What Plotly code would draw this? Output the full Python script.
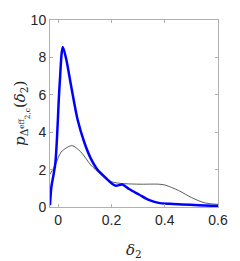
import plotly.graph_objects as go

blue_x = [-0.031, -0.026, -0.011, 0.005, 0.017, 0.03, 0.048, 0.073, 0.098, 0.122, 0.147,
          0.184, 0.205, 0.217, 0.241, 0.266, 0.303, 0.34, 0.377, 0.42, 0.464, 0.526, 0.6]
blue_y = [0.1, 1.05, 2.33, 6.5, 8.56, 7.9, 6.5, 4.65, 3.45, 2.6, 2.0,
          1.48, 1.22, 1.14, 1.2, 0.96, 0.67, 0.38, 0.22, 0.17, 0.14, 0.1, 0.05]

black_x = [-0.031, -0.011, 0.011, 0.051, 0.085, 0.122, 0.16, 0.192, 0.229, 0.303,
           0.377, 0.402, 0.452, 0.501, 0.551, 0.6]
black_y = [1.75, 2.25, 2.94, 3.28, 2.94, 2.25, 1.74, 1.39, 1.27, 1.22,
           1.22, 1.17, 0.88, 0.5, 0.22, 0.14]

x_ticks = [0, 0.2, 0.4, 0.6]
x_labels = ["0", "0.2", "0.4", "0.6"]
y_ticks = [0, 2, 4, 6, 8, 10]
y_labels = ["0", "2", "4", "6", "8", "10"]

fig = go.Figure()
fig.add_trace(go.Scatter(x=black_x, y=black_y, mode="lines",
                         line=dict(color="#333333", width=0.8, shape="spline", smoothing=0.8)))
fig.add_trace(go.Scatter(x=blue_x, y=blue_y, mode="lines",
                         line=dict(color="#0000ff", width=2.5, shape="spline", smoothing=0.8)))

axis_common = dict(showline=True, mirror="ticks", linecolor="#b0b0b0", linewidth=1,
                   ticks="inside", ticklen=3, tickcolor="#b0b0b0", showgrid=False,
                   zeroline=False, tickfont=dict(family="Liberation Sans, Arial", size=14, color="#262626"))

fig.update_layout(
    width=240, height=261,
    margin=dict(l=50, r=20, t=13, b=54),
    paper_bgcolor="white", plot_bgcolor="white",
    showlegend=False,
    xaxis=dict(range=[-0.031, 0.6], tickvals=x_ticks, ticktext=x_labels, **axis_common),
    yaxis=dict(range=[0, 10], tickvals=y_ticks, ticktext=y_labels, **axis_common),
)

fig.add_annotation(text="<i>δ</i><sub>2</sub>", xref="paper", yref="paper",
                   x=0.5, y=-0.17, xanchor="center", yanchor="top", showarrow=False,
                   font=dict(family="DejaVu Serif, serif", size=15, color="#262626"))
fig.add_annotation(text="<i>p</i><sub>Δ<sup>eff</sup><sub>2,c</sub></sub>(<i>δ</i><sub>2</sub>)",
                   xref="paper", yref="paper", x=-0.17, y=0.5, xanchor="center", yanchor="middle",
                   textangle=-90, showarrow=False,
                   font=dict(family="DejaVu Serif, serif", size=15, color="#262626"))

fig.write_html("out.html", config={"displayModeBar": False},
               post_script="document.body.style.margin='0';document.body.style.padding='0';document.body.style.overflow='hidden';")
